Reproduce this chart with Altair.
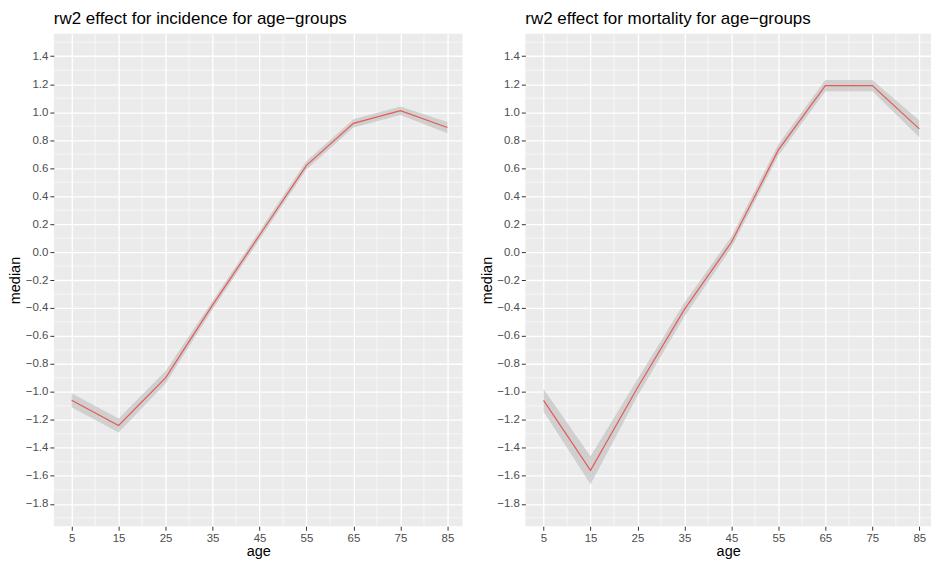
import altair as alt
import pandas as pd

ages = [5, 15, 25, 35, 45, 55, 65, 75, 85]

inc_median = [-1.06, -1.24, -0.90, -0.38, 0.12, 0.62, 0.92, 1.01, 0.89]
inc_lower = [-1.11, -1.29, -0.94, -0.41, 0.09, 0.59, 0.89, 0.98, 0.85]
inc_upper = [-1.01, -1.19, -0.85, -0.35, 0.15, 0.65, 0.95, 1.04, 0.93]

mort_median = [-1.06, -1.56, -0.97, -0.41, 0.07, 0.73, 1.19, 1.19, 0.88]
mort_lower = [-1.14, -1.66, -1.03, -0.46, 0.03, 0.69, 1.15, 1.15, 0.82]
mort_upper = [-0.98, -1.46, -0.91, -0.36, 0.11, 0.77, 1.23, 1.23, 0.94]

y_major = [-1.8, -1.6, -1.4, -1.2, -1.0, -0.8, -0.6, -0.4, -0.2, 0.0,
           0.2, 0.4, 0.6, 0.8, 1.0, 1.2, 1.4]
y_minor = [-1.9, -1.7, -1.5, -1.3, -1.1, -0.9, -0.7, -0.5, -0.3, -0.1,
           0.1, 0.3, 0.5, 0.7, 0.9, 1.1, 1.3, 1.5]
x_minor = [10, 20, 30, 40, 50, 60, 70, 80]

titles = ["rw2 effect for incidence for age\u2212groups",
          "rw2 effect for mortality for age\u2212groups"]

FONT = "Liberation Sans"
Y_DOMAIN = [-1.96, 1.56]


def panel(title, med, lo, hi, xdomain, width, height):
    df = pd.DataFrame({"age": ages, "median": med, "lower": lo, "upper": hi})
    xs = alt.Scale(domain=xdomain, nice=False, zero=False)
    ys = alt.Scale(domain=Y_DOMAIN, nice=False, zero=False)
    x_axis = alt.Axis(values=ages, format="d", labelOverlap=False, tickCount=20)
    y_axis = alt.Axis(values=y_major, format=".1f", labelOverlap=False, tickCount=40)

    minor_y = alt.Chart(pd.DataFrame({"v": y_minor})).mark_rule(
        color="white", strokeWidth=0.6
    ).encode(y=alt.Y("v:Q", scale=ys, axis=y_axis, title="median"))
    minor_x = alt.Chart(pd.DataFrame({"v": x_minor})).mark_rule(
        color="white", strokeWidth=0.6
    ).encode(x=alt.X("v:Q", scale=xs, axis=x_axis, title="age"))

    band = alt.Chart(df).mark_area(color="#BDBDBD", opacity=0.6).encode(
        x=alt.X("age:Q", scale=xs, title="age"),
        y=alt.Y("lower:Q", scale=ys, title="median"),
        y2="upper:Q",
    )
    line = alt.Chart(df).mark_line(color="#E65A54", strokeWidth=1.2).encode(
        x=alt.X("age:Q", scale=xs, title="age"),
        y=alt.Y("median:Q", scale=ys, title="median"),
    )
    return alt.layer(minor_y, minor_x, band, line).properties(
        width=width,
        height=height,
        title=alt.TitleParams(
            text=title, anchor="start", frame="group", fontSize=17,
            font=FONT, fontWeight="normal", color="black", offset=6,
        ),
    )


left = panel(titles[0], inc_median, inc_lower, inc_upper, [1.22, 88.22], 410, 494)
right = panel(titles[1], mort_median, mort_lower, mort_upper, [1.12, 87.49], 407, 494)

chart = alt.hconcat(left, right, spacing=16).properties(
    padding=0, background="white"
).configure_view(
    fill="#EBEBEB", stroke=None
).configure_axis(
    grid=True, gridColor="white", gridWidth=1.3, domain=False,
    tickColor="#333333", tickSize=4, tickWidth=1,
    labelColor="#4D4D4D", labelFontSize=11.5, labelFont=FONT, labelPadding=2,
    titleFont=FONT, titleFontSize=14.5, titleFontWeight="normal",
    titleColor="black",
).configure_axisY(
    minExtent=29, maxExtent=29, titlePadding=2,
).configure_axisX(
    titlePadding=1,
)

chart.save("out.html", embed_options={"renderer": "svg", "actions": False})
